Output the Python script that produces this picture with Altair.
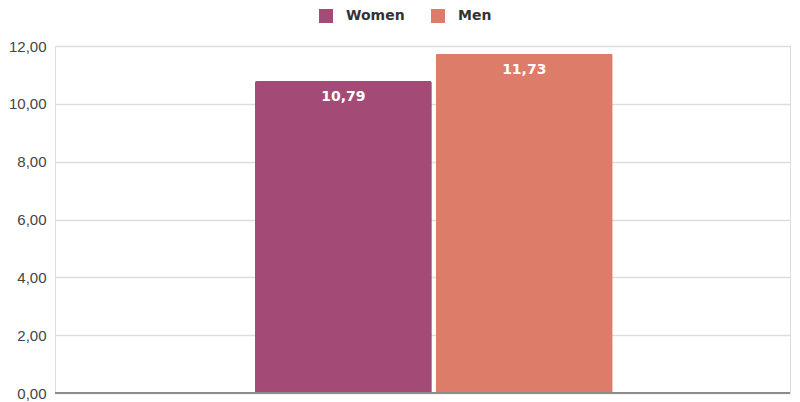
import altair as alt
import pandas as pd

genders = ["Women", "Men"]
values = [10.79, 11.73]
colors = ["#A44A76", "#DD7C68"]

df = pd.DataFrame({"grp": ["all", "all"], "gender": genders, "value": values})

x = alt.X("grp:N", axis=None,
          scale=alt.Scale(paddingInner=0, paddingOuter=0.527, align=0.53))
xo = alt.XOffset("gender:N", sort=genders, scale=alt.Scale(paddingInner=0.022, paddingOuter=0))
y = alt.Y("value:Q", scale=alt.Scale(domain=[0, 12]),
          axis=alt.Axis(values=[0, 2, 4, 6, 8, 10, 12], title=None, domain=False, ticks=False,
                        labelExpr="replace(format(datum.value, '.2f'), '.', ',')",
                        labelFont="Liberation Sans", labelFontSize=15, labelColor="#444444",
                        labelPadding=9, gridColor="#DDDDDD", gridWidth=1.5))

bars = alt.Chart(df).mark_bar(cornerRadiusTopLeft=2, cornerRadiusTopRight=2).encode(
    x=x, xOffset=xo, y=y,
    color=alt.Color("gender:N", sort=genders,
                    scale=alt.Scale(domain=genders, range=colors),
                    legend=alt.Legend(orient="none", legendX=264, legendY=-37, direction="horizontal",
                                      title=None, symbolType="square",
                                      symbolSize=196, symbolStrokeWidth=0, symbolOpacity=1,
                                      labelFont="DejaVu Sans", labelFontSize=14, labelFontWeight="bold",
                                      labelColor="#333333", columnPadding=26, labelOffset=13))
)

labels = alt.Chart(df).transform_calculate(
    lab="replace(format(datum.value, '.2f'), '.', ',')"
).mark_text(dy=16, color="white", font="DejaVu Sans", fontSize=14, fontWeight="bold").encode(
    x=x, xOffset=xo, y=alt.Y("value:Q"), text="lab:N"
)

zero = alt.Chart(df).mark_rule(color="#8C8C8C", strokeWidth=2).encode(y=alt.datum(0))

chart = alt.layer(bars, zero, labels).properties(width=735, height=347).configure_view(
    stroke=None).configure(padding={"left": 0, "top": 1, "right": 0, "bottom": 0})

chart.save("out.html", embed_options={"renderer": "svg", "actions": False})
